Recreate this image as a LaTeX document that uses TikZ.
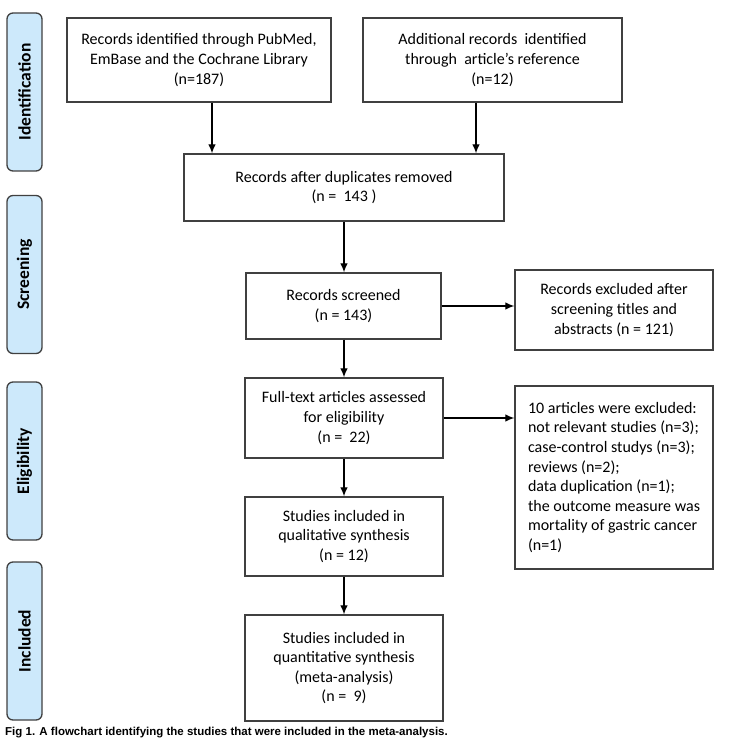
\documentclass[tikz,border=0pt]{standalone}
\usepackage{fontspec}
\usetikzlibrary{arrows.meta}
\setmainfont{Carlito}
\newfontfamily\capfont{Liberation Sans}
\definecolor{phasefill}{RGB}{205,233,251}
\definecolor{edgegray}{RGB}{64,64,64}
\begin{document}
\begin{tikzpicture}
	[x=1pt,y=-1pt,
	box/.style={rectangle,draw=edgegray,line width=1.4pt,align=center,inner sep=0pt,
		font=\fontsize{16}{19.6}\selectfont},
	phase/.style={rectangle,draw=edgegray,line width=1.3pt,fill=phasefill,rounded corners=6pt,
		rotate=90,minimum width=158pt,minimum height=35pt,inner sep=0pt,
		font=\fontsize{17.5}{20}\selectfont\bfseries},
	link/.style={->,line width=1.1pt},>={Latex[length=9pt,width=7.5pt]}]
	\useasboundingbox (0,0) rectangle (750,738);
	% phases
	\node[phase,name=p1]at(24.5,92){Identification};
	\node[phase,name=p2]at(24.5,274.5){Screening};
	\node[phase,name=p3]at(24.5,461){Eligibility};
	\node[phase,name=p4]at(24.5,641){Included};
	% boxes
	\node[box,name=id1,minimum width=264pt,minimum height=84pt]at(199,60)
		{Records identified through PubMed,\\EmBase and the Cochrane Library\\(n=187)};
	\node[box,name=id2,minimum width=259pt,minimum height=84pt]at(492.5,60)
		{Additional records \ identified\\through \ article's reference\\(n=12)};
	\node[box,name=dup,minimum width=320pt,minimum height=67pt]at(344,187.5)
		{Records after duplicates removed\\(n = \ 143 )};
	\node[box,name=scr,minimum width=195pt,minimum height=66pt]at(343.5,306)
		{Records screened\\(n = 143)};
	\node[box,name=exc1,minimum width=198pt,minimum height=80pt]at(614,310)
		{Records excluded after\\screening titles and\\abstracts (n = 121)};
	\node[box,name=full,minimum width=198pt,minimum height=80pt]at(344,418)
		{Full-text articles assessed\\for eligibility\\(n = \ 22)};
	\node[box,name=exc2,minimum width=198pt,minimum height=183pt,align=left]at(614,477.5)
		{10 articles were excluded:\\not relevant studies (n=3);\\case-control studys (n=3);\\reviews (n=2);\\data duplication (n=1);\\the outcome measure was\\mortality of gastric cancer\\(n=1)};
	\node[box,name=qual,minimum width=198pt,minimum height=79pt]at(344,536.5)
		{Studies included in\\qualitative synthesis\\(n = 12)};
	\node[box,name=quan,minimum width=198pt,minimum height=106pt]at(344,668)
		{Studies included in\\quantitative synthesis\\(meta-analysis)\\(n = \ 9)};
	% caption
	\node[name=cap,anchor=base west,inner sep=0pt,font=\capfont\fontsize{11.5}{13}\selectfont\bfseries]
		at(5,735.3){Fig 1. A flowchart identifying the studies that were included in the meta-analysis.};
	% arrows
	\draw[link] ([xshift=13pt]id1.south) -- ([xshift=13pt]id1.south |- dup.north);
	\draw[link] ([xshift=-16.5pt]id2.south) -- ([xshift=-16.5pt]id2.south |- dup.north);
	\draw[link] (dup.south) -- (dup.south |- scr.north);
	\draw[link] (scr.east) -- (scr.east -| exc1.west);
	\draw[link] ([xshift=0.5pt]scr.south) -- ([xshift=0.5pt]scr.south |- full.north);
	\draw[link] (full.east) -- (full.east -| exc2.west);
	\draw[link] (full.south) -- (qual.north);
	\draw[link] (qual.south) -- (quan.north);
\end{tikzpicture}
\end{document}
